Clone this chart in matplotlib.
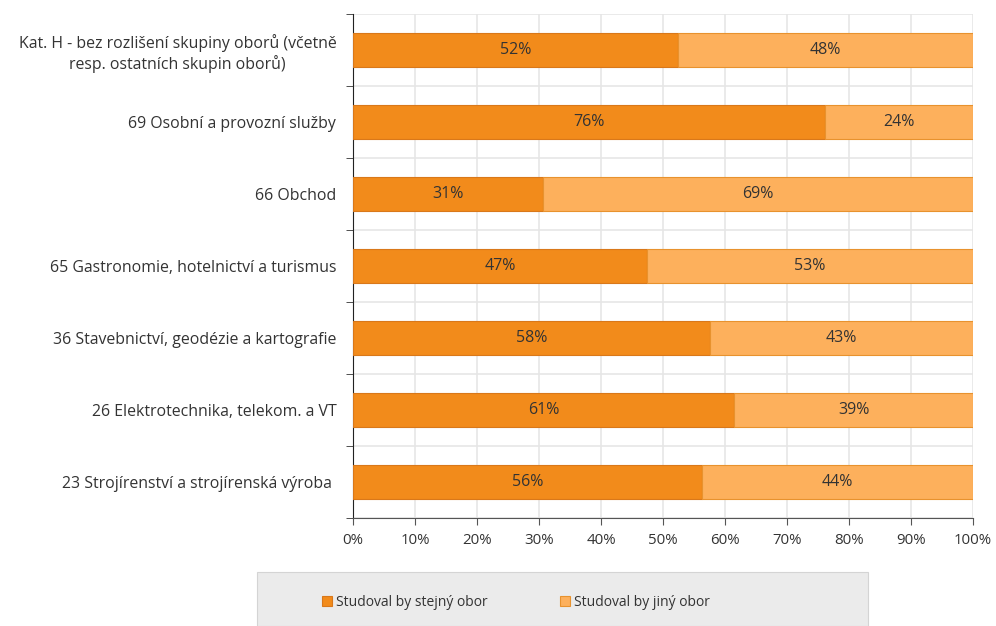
import numpy as np
import matplotlib.pyplot as plt
from matplotlib.patches import Rectangle

plt.rcParams['font.family'] = ['Open Sans', 'DejaVu Sans']

# categories, top to bottom as in the picture
categories = [
    "Kat. H - bez rozlišení skupiny oborů (včetně\nresp. ostatních skupin oborů)",
    "69 Osobní a provozní služby",
    "66 Obchod",
    "65 Gastronomie, hotelnictví a turismus",
    "36 Stavebnictví, geodézie a kartografie",
    "26 Elektrotechnika, telekom. a VT",
    "23 Strojírenství a strojírenská výroba ",
]
same_field = [52.4, 76.1, 30.6, 47.4, 57.6, 61.5, 56.3]
other_field = [100 - v for v in same_field]
same_labels = ["52%", "76%", "31%", "47%", "58%", "61%", "56%"]
other_labels = ["48%", "24%", "69%", "53%", "43%", "39%", "44%"]
series_names = ["Studoval by stejný obor", "Studoval by jiný obor"]

dark = "#F28B1B"
light = "#FDB05C"
txt = "#333333"

fig = plt.figure(figsize=(9.96, 6.26), dpi=100)
ax = fig.add_axes([353 / 996, 1 - 518 / 626, 620 / 996, 504 / 626])

y = np.arange(len(categories))
h = 0.47
b1 = ax.barh(y, same_field, height=h, color=dark, edgecolor="#D9781A", linewidth=0.8, zorder=3)
b2 = ax.barh(y, other_field, left=same_field, height=h, color=light, edgecolor="#E8922E", linewidth=0.8, zorder=3)

for bars, labs in [(b1, same_labels), (b2, other_labels)]:
    for bar, lab in zip(bars, labs):
        ax.text(bar.get_x() + bar.get_width() / 2, bar.get_y() + h / 2, lab,
                ha="center", va="center", fontsize=11.5, color=txt, zorder=4)

ax.set_xlim(0, 100)
ax.set_ylim(len(categories) - 0.5, -0.5)
ax.set_xticks(np.arange(0, 101, 10))
ax.set_xticklabels([f"{v}%" for v in range(0, 101, 10)], fontsize=10.8, color=txt)
ax.set_yticks(y)
ax.set_yticklabels(categories, fontsize=11.4, color=txt, ha="right", multialignment="center")
ax.tick_params(axis="y", length=0, pad=12)
ax.set_yticks(np.arange(-0.5, len(categories), 1), minor=True)
ax.tick_params(axis="y", which="minor", length=5, color="#333333")
ax.tick_params(axis="x", length=5, color="#555555", pad=6)

ax.grid(axis="x", color="#E6E6E6", linewidth=1.2, zorder=0)
ax.grid(axis="y", which="minor", color="#E6E6E6", linewidth=1.2, zorder=0)
ax.set_axisbelow(True)
for s in ["top", "right"]:
    ax.spines[s].set_visible(False)
ax.spines["left"].set_color("#222222")
ax.spines["bottom"].set_color("#555555")

# legend box at the bottom
fig.patches.append(Rectangle((257 / 996, 0), 611 / 996, 54 / 626, transform=fig.transFigure,
                             facecolor="#EBEBEB", edgecolor="#D4D4D4", linewidth=0.8))
leg = fig.legend([b1, b2], series_names, loc="center", bbox_to_anchor=(516 / 996, 24 / 626),
                 ncol=2, frameon=False, fontsize=10, handlelength=0.7, handleheight=0.7,
                 handletextpad=0.3, columnspacing=5.2)
for t in leg.get_texts():
    t.set_color(txt)

fig.savefig("out.png", dpi=100)
